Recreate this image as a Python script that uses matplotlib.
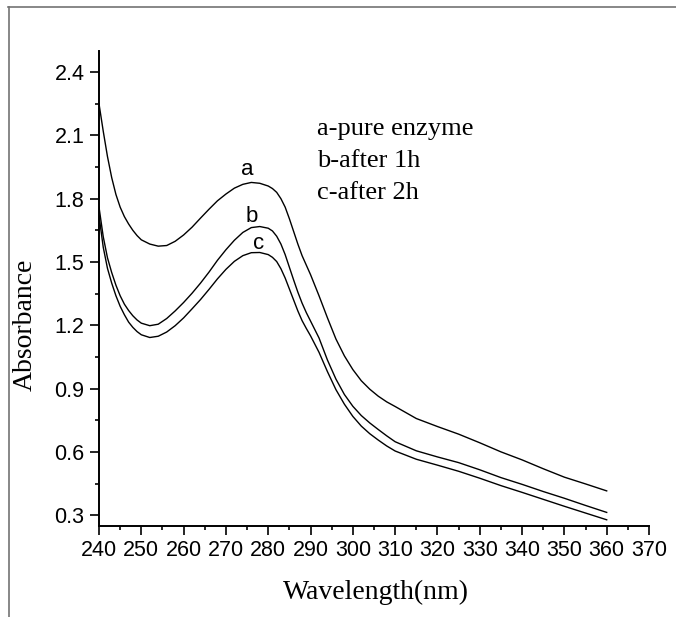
import numpy as np
import matplotlib.pyplot as plt
from matplotlib.lines import Line2D
from matplotlib.ticker import MultipleLocator, AutoMinorLocator

# absorbance spectra
wl = [240, 241, 242, 243, 244, 245, 246, 247, 248, 249, 250,
      252, 254, 256, 258, 260, 262, 264, 266, 268, 270, 272, 274, 276, 278,
      280, 281, 282, 283, 284, 285, 286, 287, 288, 289, 290,
      292, 294, 296, 298, 300, 302, 304, 306, 308, 310,
      315, 320, 325, 330, 335, 340, 345, 350, 355, 360]

abs_a = [2.25, 2.12, 2.00, 1.90, 1.82, 1.76, 1.715, 1.68, 1.65, 1.625, 1.605,
         1.585, 1.575, 1.578, 1.598, 1.628, 1.665, 1.708, 1.75, 1.79, 1.822,
         1.85, 1.868, 1.877, 1.873,
         1.86, 1.848, 1.83, 1.80, 1.76, 1.705, 1.645, 1.585, 1.53, 1.485, 1.44,
         1.34, 1.235, 1.135, 1.055, 0.99, 0.937, 0.897, 0.864, 0.837, 0.815,
         0.758, 0.72, 0.684, 0.643, 0.60, 0.562, 0.52, 0.48, 0.448, 0.415]

abs_b = [1.76, 1.62, 1.52, 1.45, 1.39, 1.34, 1.30, 1.27, 1.245, 1.225, 1.21,
         1.198, 1.205, 1.232, 1.268, 1.308, 1.352, 1.40, 1.452, 1.508, 1.558,
         1.603, 1.64, 1.663, 1.668,
         1.66, 1.647, 1.622, 1.585, 1.535, 1.475, 1.415, 1.357, 1.305, 1.26,
         1.22,
         1.14, 1.035, 0.945, 0.872, 0.816, 0.772, 0.737, 0.706, 0.676, 0.648,
         0.605, 0.576, 0.549, 0.515, 0.478, 0.446, 0.412, 0.38, 0.346, 0.313]

abs_c = [1.72, 1.57, 1.47, 1.40, 1.34, 1.29, 1.25, 1.215, 1.19, 1.17, 1.155,
         1.142, 1.148, 1.168, 1.198, 1.235, 1.278, 1.322, 1.37, 1.42, 1.465,
         1.503, 1.53, 1.544, 1.545,
         1.535, 1.522, 1.502, 1.468, 1.424, 1.372, 1.32, 1.268, 1.222, 1.185,
         1.15,
         1.072, 0.98, 0.895, 0.826, 0.768, 0.722, 0.686, 0.656, 0.628, 0.604,
         0.565, 0.537, 0.508, 0.475, 0.44, 0.408, 0.375, 0.342, 0.31, 0.278]

legend_lines = ["a-pure enzyme", "b-after 1h", "c-after 2h"]

fig = plt.figure(figsize=(6.76, 6.17), dpi=100)
ax = fig.add_axes([99 / 676, 1 - 525.7 / 617, 550 / 676, 474.7 / 617])

for ys in (abs_a, abs_b, abs_c):
    ax.plot(wl, ys, color="black", lw=1.0, solid_joinstyle="round")

ax.set_xlim(240, 370)
ax.set_ylim(0.25, 2.5)
ax.xaxis.set_major_locator(MultipleLocator(10))
ax.xaxis.set_minor_locator(AutoMinorLocator(2))
ax.yaxis.set_major_locator(MultipleLocator(0.3))
ax.yaxis.set_minor_locator(AutoMinorLocator(2))
ax.set_yticks(np.arange(0.3, 2.41, 0.3))
ax.set_yticklabels(["%.1f" % v for v in np.arange(0.3, 2.41, 0.3)])

for s in ("top", "right"):
    ax.spines[s].set_visible(False)
for s in ("left", "bottom"):
    ax.spines[s].set_linewidth(1.4)

ax.tick_params(which="major", direction="out", length=6.5, width=1.2,
               labelsize=15.5, pad=4)
ax.tick_params(which="minor", direction="out", length=3.2, width=1.2)
for lab in ax.get_xticklabels() + ax.get_yticklabels():
    lab.set_family("Liberation Sans")

# curve letters
ax.text(275.0, 1.938, "a", ha="center", va="center", fontsize=16,
        family="Liberation Sans")
ax.text(276.1, 1.716, "b", ha="center", va="center", fontsize=16,
        family="Liberation Sans")
ax.text(277.7, 1.589, "c", ha="center", va="center", fontsize=16,
        family="Liberation Sans")

for txt, y in zip(legend_lines, [2.10, 1.948, 1.797]):
    ax.text(291.5, y, txt, ha="left", va="baseline", fontsize=19,
            family="Liberation Serif")

fig.text(376 / 676, 1 - 592 / 617, "Wavelength(nm)", ha="center",
         va="center", fontsize=20, family="Liberation Serif")
fig.text(25 / 676, 1 - 325 / 617, "Absorbance", ha="center", va="center",
         rotation=90, fontsize=20, family="Liberation Serif")

# thin frame around the picture (top and left edges only)
fig.add_artist(Line2D([8 / 676, 1], [1 - 7 / 617] * 2,
                      transform=fig.transFigure, color="0.45", lw=1.2))
fig.add_artist(Line2D([9 / 676] * 2, [0, 1 - 7 / 617],
                      transform=fig.transFigure, color="0.45", lw=1.2))

fig.savefig("out.png", dpi=100)
